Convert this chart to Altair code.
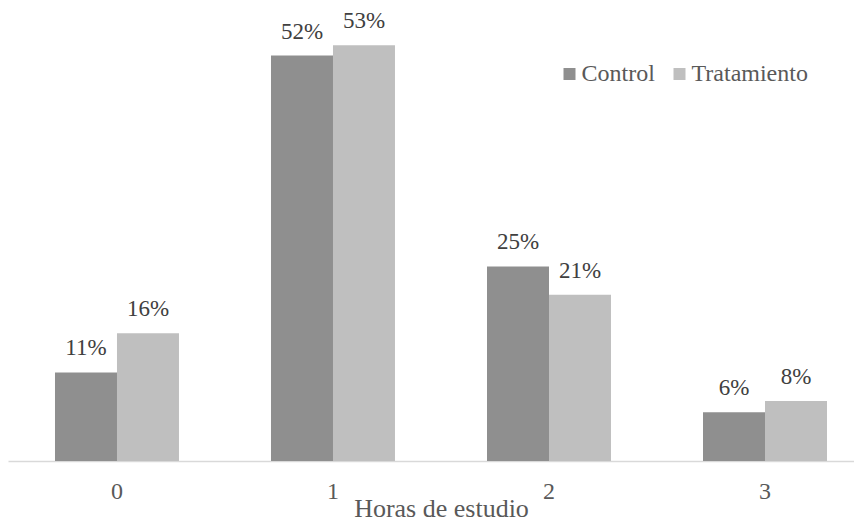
import altair as alt
import pandas as pd

categories = ["0", "1", "2", "3"]
series = ["Control", "Tratamiento"]
control = [11.3, 51.7, 24.8, 6.2]
tratamiento = [16.3, 53.0, 21.2, 7.65]
colors = ["#8f8f8f", "#bfbfbf"]

rows = []
for i, c in enumerate(categories):
    rows.append({"hora": c, "grupo": "Control", "valor": control[i], "etiqueta": f"{round(control[i])}%"})
    rows.append({"hora": c, "grupo": "Tratamiento", "valor": tratamiento[i], "etiqueta": f"{round(tratamiento[i])}%"})
df = pd.DataFrame(rows)

FONT = "Liberation Serif"

x = alt.X(
    "hora:N",
    sort=categories,
    scale=alt.Scale(paddingInner=0.426, paddingOuter=0.1713, align=0.635),
    axis=alt.Axis(
        title="Horas de estudio",
        labelAngle=0,
        ticks=False,
        tickSize=0,
        domainColor="#d9d9d9",
        domainWidth=1.5,
        labelFont=FONT,
        labelFontSize=24,
        labelColor="#595959",
        labelBaseline="alphabetic",
        labelPadding=37,
        titleFont=FONT,
        titleFontSize=26,
        titleFontWeight="normal",
        titleColor="#595959",
        titleBaseline="alphabetic",
        titleY=55,
        titleX=433,
    ),
)
y = alt.Y("valor:Q", scale=alt.Scale(domain=[0, 57.76], nice=False, zero=True), axis=None)
xo = alt.XOffset("grupo:N", sort=series)

base = alt.Chart(df)

bars = base.mark_bar().encode(
    x=x,
    xOffset=xo,
    y=y,
    color=alt.Color(
        "grupo:N",
        sort=series,
        scale=alt.Scale(domain=series, range=colors),
        legend=alt.Legend(
            title=None,
            orient="none",
            legendX=549.5,
            legendY=54,
            direction="horizontal",
            symbolType="square",
            symbolSize=144,
            symbolStrokeWidth=0,
            labelFont=FONT,
            labelFontSize=24,
            labelColor="#595959",
            labelOffset=0,
            columnPadding=12,
            padding=0,
        ),
    ),
)

labels = base.mark_text(
    baseline="alphabetic", align="center", dy=-17, font=FONT, fontSize=23, color="#404040"
).encode(x=x, xOffset=xo, y=y, text="etiqueta:N")

chart = (
    alt.layer(bars, labels)
    .properties(
        width=846,
        height=453,
        padding={"left": 0, "top": 0, "right": 0, "bottom": 57},
        autosize="none",
        view=alt.ViewBackground(strokeWidth=0, stroke="transparent"),
    )
    .configure_view(strokeWidth=0, stroke="transparent")
    .configure(background="white")
)

chart.save("out.html", embed_options={"renderer": "svg", "actions": False})
